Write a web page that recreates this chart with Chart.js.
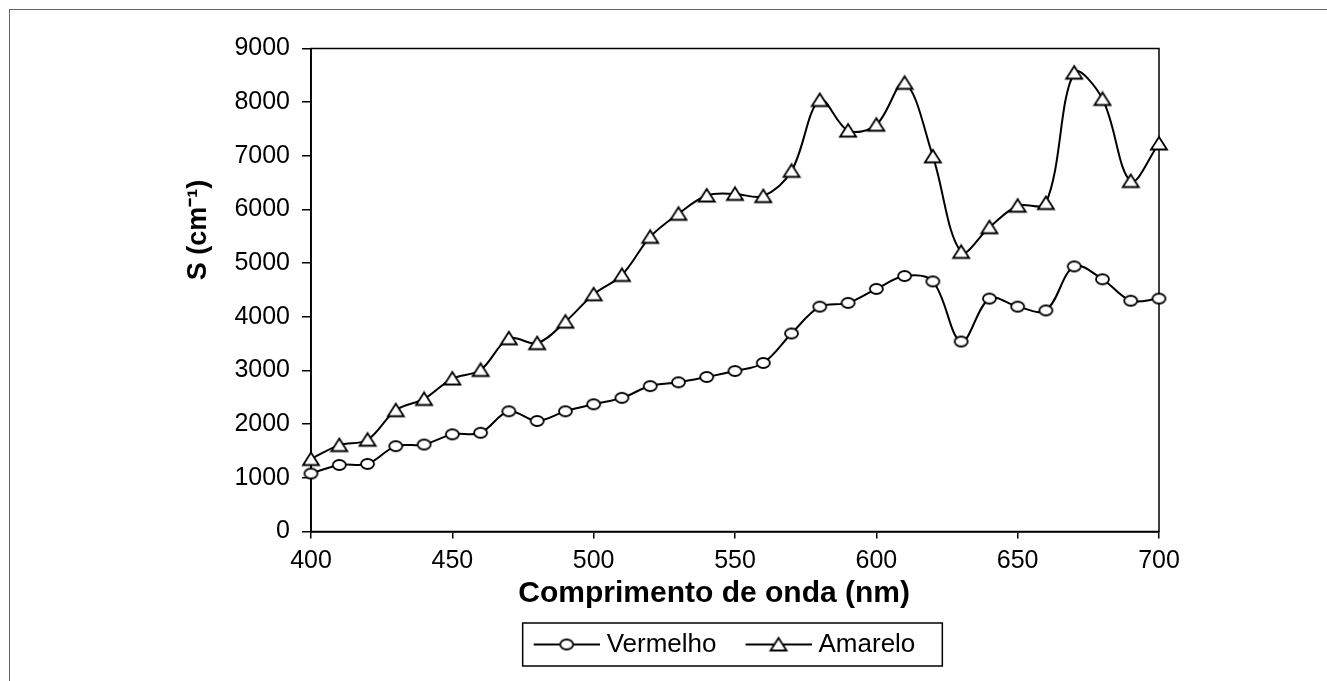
<!DOCTYPE html>
<html>
<head>
<meta charset="utf-8">
<script src="https://cdn.jsdelivr.net/npm/chart.js@4.4.1/dist/chart.umd.min.js"></script>
<style>
  html, body { margin: 0; padding: 0; background: #fff; }
  #wrap { position: relative; width: 1327px; height: 681px; overflow: hidden; }
  #frame { position: absolute; left: 9px; top: 9px; width: 1400px; height: 700px; border-left: 1px solid #666; border-top: 1px solid #666; }
  #chart { position: absolute; left: 0; top: 0; }
</style>
</head>
<body>
<div id="wrap">
  <div id="frame"></div>
  <canvas id="chart" width="1327" height="681"></canvas>
</div>
<script>
// comprimento de onda (nm)
const wavelengths = [400, 410, 420, 430, 440, 450, 460, 470, 480, 490, 500, 510, 520, 530, 540, 550,
  560, 570, 580, 590, 600, 610, 620, 630, 640, 650, 660, 670, 680, 690, 700];
const vermelho = [1080, 1240, 1260, 1590, 1620, 1810, 1840, 2240, 2060, 2240, 2370, 2490, 2710, 2780, 2880, 2990,
  3140, 3690, 4190, 4260, 4520, 4760, 4660, 3540, 4340, 4190, 4120, 4940, 4700, 4300, 4340];
const amarelo = [1350, 1610, 1710, 2260, 2470, 2850, 3010, 3600, 3510, 3910, 4420, 4780, 5490, 5920, 6260, 6290,
  6250, 6720, 8040, 7470, 7580, 8360, 6990, 5210, 5670, 6070, 6120, 8550, 8060, 6530, 7230];
const xTicks = [400, 450, 500, 550, 600, 650, 700];
const yTicks = [0, 1000, 2000, 3000, 4000, 5000, 6000, 7000, 8000, 9000];
const seriesNames = ['Vermelho', 'Amarelo'];

const FONT = '"Liberation Sans", Arial, sans-serif';

// marcadores desenhados em canvas (elipse e triângulo, como no gráfico original)
function makeCanvas(w, h) {
  const c = document.createElement('canvas');
  c.width = w;
  c.height = h;
  return c;
}

function drawCircle(ctx, cx, cy) {
  ctx.beginPath();
  ctx.ellipse(cx, cy, 6.5, 5, 0, 0, Math.PI * 2);
  ctx.fillStyle = '#fff';
  ctx.fill();
  ctx.lineWidth = 1.8;
  ctx.strokeStyle = '#000';
  ctx.stroke();
}

function drawTriangle(ctx, cx, cy) {
  ctx.beginPath();
  ctx.moveTo(cx - 8, cy + 6);
  ctx.lineTo(cx + 8, cy + 6);
  ctx.lineTo(cx, cy - 6.5);
  ctx.closePath();
  ctx.fillStyle = '#fff';
  ctx.fill();
  ctx.lineWidth = 1.8;
  ctx.strokeStyle = '#000';
  ctx.stroke();
}

const circleImg = makeCanvas(17, 14);
drawCircle(circleImg.getContext('2d'), 8.5, 7);
const triangleImg = makeCanvas(20, 17);
drawTriangle(triangleImg.getContext('2d'), 10, 8.5);

// símbolo da legenda: linha com marcador no meio (parte esquerda transparente = espaçamento)
const LEG_W = 79;
function legendSymbol(drawMarker) {
  const c = makeCanvas(91, 18);
  const ctx = c.getContext('2d');
  ctx.beginPath();
  ctx.moveTo(25, 9);
  ctx.lineTo(91, 9);
  ctx.lineWidth = 2;
  ctx.strokeStyle = '#000';
  ctx.stroke();
  drawMarker(ctx, 58, 9);
  return c;
}
const legendImgs = [legendSymbol(drawCircle), legendSymbol(drawTriangle)];

const plotFrame = {
  id: 'plotFrame',
  afterLayout(chart) {
    // legenda um pouco à esquerda do centro, como no original
    chart.legend.left -= 20;
    chart.legend.right -= 20;
  },
  beforeDatasetsDraw(chart) {
    const { ctx, chartArea: a } = chart;
    ctx.save();
    ctx.strokeStyle = '#000';
    ctx.lineWidth = 1.5;
    ctx.strokeRect(a.left, a.top, a.right - a.left, a.bottom - a.top);
    ctx.restore();
  },
  afterDraw(chart) {
    const boxes = chart.legend.legendHitBoxes;
    if (!boxes || !boxes.length) return;
    const first = boxes[0];
    const last = boxes[boxes.length - 1];
    const cy = first.top + first.height / 2;
    const x0 = first.left + LEG_W - 60 - 11;
    const x1 = last.left + last.width + 27;
    const ctx = chart.ctx;
    ctx.save();
    ctx.strokeStyle = '#000';
    ctx.lineWidth = 1.5;
    ctx.strokeRect(x0, cy - 21.5, x1 - x0, 43);
    ctx.restore();
  }
};

const ctx = document.getElementById('chart').getContext('2d');

new Chart(ctx, {
  type: 'line',
  data: {
    datasets: [
      {
        label: seriesNames[0],
        data: wavelengths.map((w, i) => ({ x: w, y: vermelho[i] })),
        borderColor: '#000',
        borderWidth: 2,
        tension: 0.35,
        pointStyle: circleImg,
        clip: false
      },
      {
        label: seriesNames[1],
        data: wavelengths.map((w, i) => ({ x: w, y: amarelo[i] })),
        borderColor: '#000',
        borderWidth: 2,
        tension: 0.35,
        pointStyle: triangleImg,
        clip: false
      }
    ]
  },
  options: {
    responsive: false,
    animation: false,
    events: [],
    layout: {
      padding: { left: 178, right: 168, top: 48.5, bottom: 13.5 }
    },
    plugins: {
      tooltip: { enabled: false },
      legend: {
        position: 'bottom',
        fullSize: false,
        labels: {
          usePointStyle: true,
          pointStyleWidth: LEG_W,
          padding: 10,
          color: '#000',
          font: { family: FONT, size: 26 },
          generateLabels: (chart) => {
            const items = Chart.defaults.plugins.legend.labels.generateLabels(chart);
            items.forEach((item, i) => { item.pointStyle = legendImgs[i]; });
            return items;
          }
        }
      }
    },
    scales: {
      x: {
        type: 'linear',
        min: 400,
        max: 700,
        afterBuildTicks: (scale) => { scale.ticks = xTicks.map(v => ({ value: v })); },
        afterFit: (scale) => { scale.height = 90; },
        border: { display: true, color: '#000', width: 1.8 },
        grid: { drawOnChartArea: false, drawTicks: true, tickLength: 7, color: '#000', lineWidth: 1.5 },
        ticks: {
          color: '#000',
          padding: 8,
          maxRotation: 0,
          callback: (v) => String(v),
          font: { family: FONT, size: 25 }
        },
        title: {
          display: true,
          text: 'Comprimento de onda (nm)' + '\u00A0'.repeat(5),
          color: '#000',
          font: { family: FONT, size: 30, weight: 'bold' },
          padding: { top: 4, bottom: 10 }
        }
      },
      y: {
        min: 0,
        max: 9000,
        afterBuildTicks: (scale) => { scale.ticks = yTicks.map(v => ({ value: v })); },
        afterFit: (scale) => { scale.width = 133; },
        border: { display: true, color: '#000', width: 1.8 },
        grid: { drawOnChartArea: false, drawTicks: true, tickLength: 9, color: '#000', lineWidth: 1.5 },
        ticks: {
          color: '#000',
          padding: 12,
          callback: (v) => String(v),
          font: { family: FONT, size: 25 }
        },
        title: {
          display: true,
          text: '\u00A0'.repeat(16) + 'S (cm\u207B\u00B9)',
          color: '#000',
          font: { family: FONT, size: 27, weight: 'bold' },
          padding: { top: 4, bottom: 4 }
        }
      }
    }
  },
  plugins: [plotFrame]
});
</script>
</body>
</html>
